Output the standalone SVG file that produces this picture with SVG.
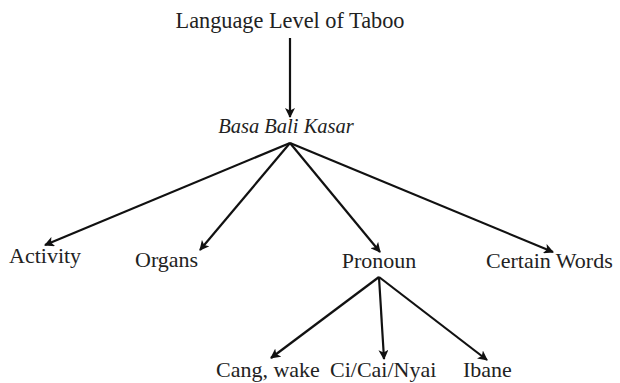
<svg xmlns="http://www.w3.org/2000/svg" width="620" height="383" viewBox="0 0 620 383">
<defs>
<marker id="ah" viewBox="0 0 10 10" refX="9" refY="5" markerWidth="10" markerHeight="10" markerUnits="userSpaceOnUse" orient="auto">
<path d="M0,0 L10,5 L0,10 L2.5,5 z" fill="#111"/>
</marker>
</defs>
<style>
text{font-family:"Liberation Serif","Times New Roman",serif;font-size:22px;fill:#222}
.it{font-style:italic;font-size:20.5px}
.t{font-size:22.3px}
.c line{stroke:#111;stroke-width:2.2;marker-end:url(#ah)}
</style>
<rect width="620" height="383" fill="#fff"/>
<g id="title"><text class="t" x="290" y="28" text-anchor="middle">Language Level of Taboo</text></g>
<g id="basa"><text class="it" x="286" y="133" text-anchor="middle">Basa Bali Kasar</text></g>
<g id="activity"><text x="9" y="263">Activity</text></g>
<g id="organs"><text x="135" y="267">Organs</text></g>
<g id="pronoun"><text x="379" y="268" text-anchor="middle">Pronoun</text></g>
<g id="certain"><text x="486" y="268">Certain Words</text></g>
<g id="cang"><text x="216" y="377">Cang, wake</text></g>
<g id="ci"><text x="330" y="377">Ci/Cai/Nyai</text></g>
<g id="ibane"><text x="463" y="377">Ibane</text></g>
<g class="c" id="connectors">
<line x1="290" y1="38" x2="290" y2="117"/>
<line x1="290" y1="143" x2="45" y2="245"/>
<line x1="290" y1="143" x2="200" y2="250"/>
<line x1="290" y1="143" x2="380" y2="252"/>
<line x1="290" y1="143" x2="553" y2="252"/>
<line x1="379" y1="277" x2="271" y2="358"/>
<line x1="379" y1="277" x2="384" y2="359"/>
<line x1="379" y1="277" x2="487" y2="360"/>
</g>
</svg>
